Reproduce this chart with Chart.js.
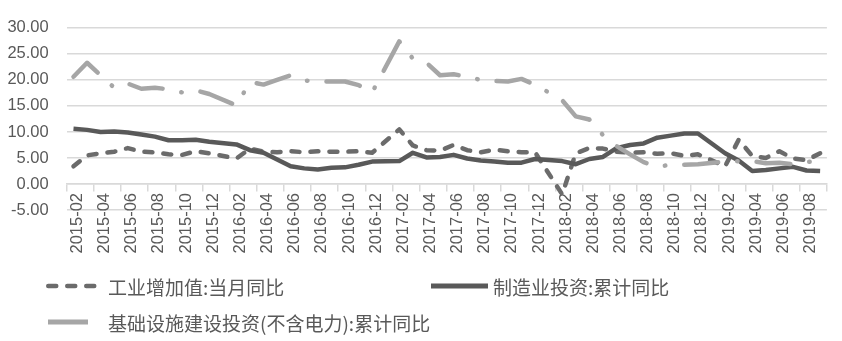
<!DOCTYPE html>
<html>
<head>
<meta charset="utf-8">
<script src="https://cdn.jsdelivr.net/npm/chart.js@4.4.1/dist/chart.umd.min.js"></script>
<style>
  html, body { margin: 0; padding: 0; background: #fff; }
  #wrap { position: relative; width: 842px; height: 341px; }
  #wrap canvas { position: absolute; left: 0; top: 0; }
  .lg { position: absolute; height: 20px; display: flex; align-items: center;
        font-family: "Noto Sans CJK SC", sans-serif; font-size: 19px; color: #595959;
        white-space: nowrap; line-height: 1; }
  .sw { position: absolute; }
</style>
</head>
<body>
<div id="wrap">
  <canvas id="chart" width="842" height="341"></canvas>
  <svg class="sw" style="left:44px;top:280px" width="60" height="12">
    <line x1="4.25" y1="6" x2="50.25" y2="6" stroke="#6b6b6b" stroke-width="4.5" stroke-dasharray="8 11" stroke-linecap="round"/>
  </svg>
  <div class="lg" style="left:108px;top:276px">工业增加值:当月同比</div>
  <svg class="sw" style="left:431px;top:280px" width="60" height="12">
    <line x1="0" y1="6" x2="57" y2="6" stroke="#595959" stroke-width="5"/>
  </svg>
  <div class="lg" style="left:493px;top:276px">制造业投资:累计同比</div>
  <svg class="sw" style="left:48px;top:316px" width="44" height="12">
    <line x1="0" y1="6" x2="40" y2="6" stroke="#a6a6a6" stroke-width="5"/>
  </svg>
  <div class="lg" style="left:108px;top:312px">基础设施建设投资(不含电力):累计同比</div>
</div>
<script>
const months = [
  "2015-02","2015-03","2015-04","2015-05","2015-06","2015-07","2015-08","2015-09","2015-10","2015-11","2015-12",
  "2016-01","2016-02","2016-03","2016-04","2016-05","2016-06","2016-07","2016-08","2016-09","2016-10","2016-11","2016-12",
  "2017-01","2017-02","2017-03","2017-04","2017-05","2017-06","2017-07","2017-08","2017-09","2017-10","2017-11","2017-12",
  "2018-01","2018-02","2018-03","2018-04","2018-05","2018-06","2018-07","2018-08","2018-09","2018-10","2018-11","2018-12",
  "2019-01","2019-02","2019-03","2019-04","2019-05","2019-06","2019-07","2019-08","2019-09"
];

// January has no figure; the lines run across it
const industry = [
  3.4, 5.5, 5.9, 6.2, 6.9, 6.2, 6.1, 5.7, 5.6, 6.3, 5.9,
  null, 4.9, 6.8, 6.2, 6.1, 6.3, 6.1, 6.3, 6.2, 6.2, 6.3, 6.0,
  null, 10.5, 7.4, 6.5, 6.4, 7.5, 6.5, 6.1, 6.6, 6.3, 6.1, 6.1,
  null, -2.0, 5.9, 6.9, 6.8, 6.2, 6.0, 6.1, 5.8, 5.9, 5.4, 5.7,
  null, 3.4, 8.5, 5.4, 5.0, 6.3, 4.9, 4.6, 5.9
];

const manufacturing = [
  10.6, 10.4, 10.0, 10.1, 9.9, 9.5, 9.1, 8.4, 8.4, 8.5, 8.1,
  null, 7.6, 6.5, 6.0, 4.7, 3.4, 3.0, 2.8, 3.1, 3.2, 3.7, 4.3,
  null, 4.4, 6.0, 5.1, 5.2, 5.6, 4.9, 4.5, 4.3, 4.1, 4.1, 4.8,
  null, 4.4, 3.8, 4.8, 5.2, 6.9, 7.5, 7.8, 8.9, 9.3, 9.7, 9.7,
  null, 5.9, 4.5, 2.5, 2.7, 3.0, 3.3, 2.6, 2.5
];

const infrastructure = [
  20.6, 23.3, 20.9, 18.5, 19.3, 18.3, 18.5, 18.2, 17.6, 18.0, 17.3,
  null, 15.1, 19.6, 19.1, 20.0, 20.9, 19.9, 19.7, 19.7, 19.7, 19.0, 17.6,
  null, 27.4, 24.1, 23.3, 20.9, 21.1, 20.6, 20.0, 19.8, 19.7, 20.2, 19.1,
  null, 16.1, 13.0, 12.4, 9.4, 7.3, 5.7, 4.2, 3.3, 3.7, 3.7, 3.8,
  null, 4.3, 4.4, 4.4, 4.0, 4.1, 3.8, 4.2, 4.5
];

const yMin = -5, yMax = 30, yStep = 5;

const axisFont = { family: "'Liberation Sans', Arial, sans-serif", size: 16.5 };
const textColor = "#595959";
const gridColor = "#d9d9d9";

new Chart(document.getElementById("chart"), {
  type: "line",
  data: {
    labels: months,
    datasets: [
      {
        label: "工业增加值:当月同比",
        data: industry,
        borderColor: "#6b6b6b",
        borderWidth: 4.5,
        borderDash: [8, 11],
        borderCapStyle: "round",
        order: 3,
      },
      {
        label: "制造业投资:累计同比",
        data: manufacturing,
        borderColor: "#595959",
        borderWidth: 4.5,
        order: 2,
      },
      {
        label: "基础设施建设投资(不含电力):累计同比",
        data: infrastructure,
        borderColor: "#a6a6a6",
        borderWidth: 4.5,
        borderDash: [34, 19, 0.5, 19],
        borderCapStyle: "round",
        order: 1,
      },
    ],
  },
  options: {
    responsive: false,
    animation: false,
    spanGaps: true,
    layout: { padding: { top: 15.7, right: 8, bottom: 131, left: 0 } },
    elements: {
      point: { radius: 0, hoverRadius: 0 },
      line: { tension: 0, borderJoinStyle: "round" },
    },
    plugins: {
      legend: { display: false },
      tooltip: { enabled: false },
    },
    scales: {
      x: {
        type: "category",
        position: { y: 0 },
        offset: true,
        grid: {
          offset: true,
          drawOnChartArea: false,
          drawTicks: true,
          tickLength: 7,
          lineWidth: 1.5,
          color: (c) => (c.index === undefined || c.index % 2 === 0) ? gridColor : "rgba(0,0,0,0)",
        },
        border: { display: true, color: gridColor, width: 1.5 },
        ticks: {
          autoSkip: false,
          maxRotation: 90,
          minRotation: 90,
          padding: 2,
          labelOffset: 4,
          color: textColor,
          font: axisFont,
          callback: function (value, index) {
            return index % 2 === 0 ? this.getLabelForValue(value) : "";
          },
        },
      },
      y: {
        min: yMin,
        max: yMax,
        afterFit: (scale) => { scale.width = 66.7; },
        border: { display: false },
        grid: { color: gridColor, lineWidth: 1.5, drawTicks: false },
        ticks: {
          stepSize: yStep,
          padding: 18,
          color: textColor,
          font: axisFont,
          callback: (v) => v.toFixed(2),
        },
      },
    },
  },
});
</script>
</body>
</html>
